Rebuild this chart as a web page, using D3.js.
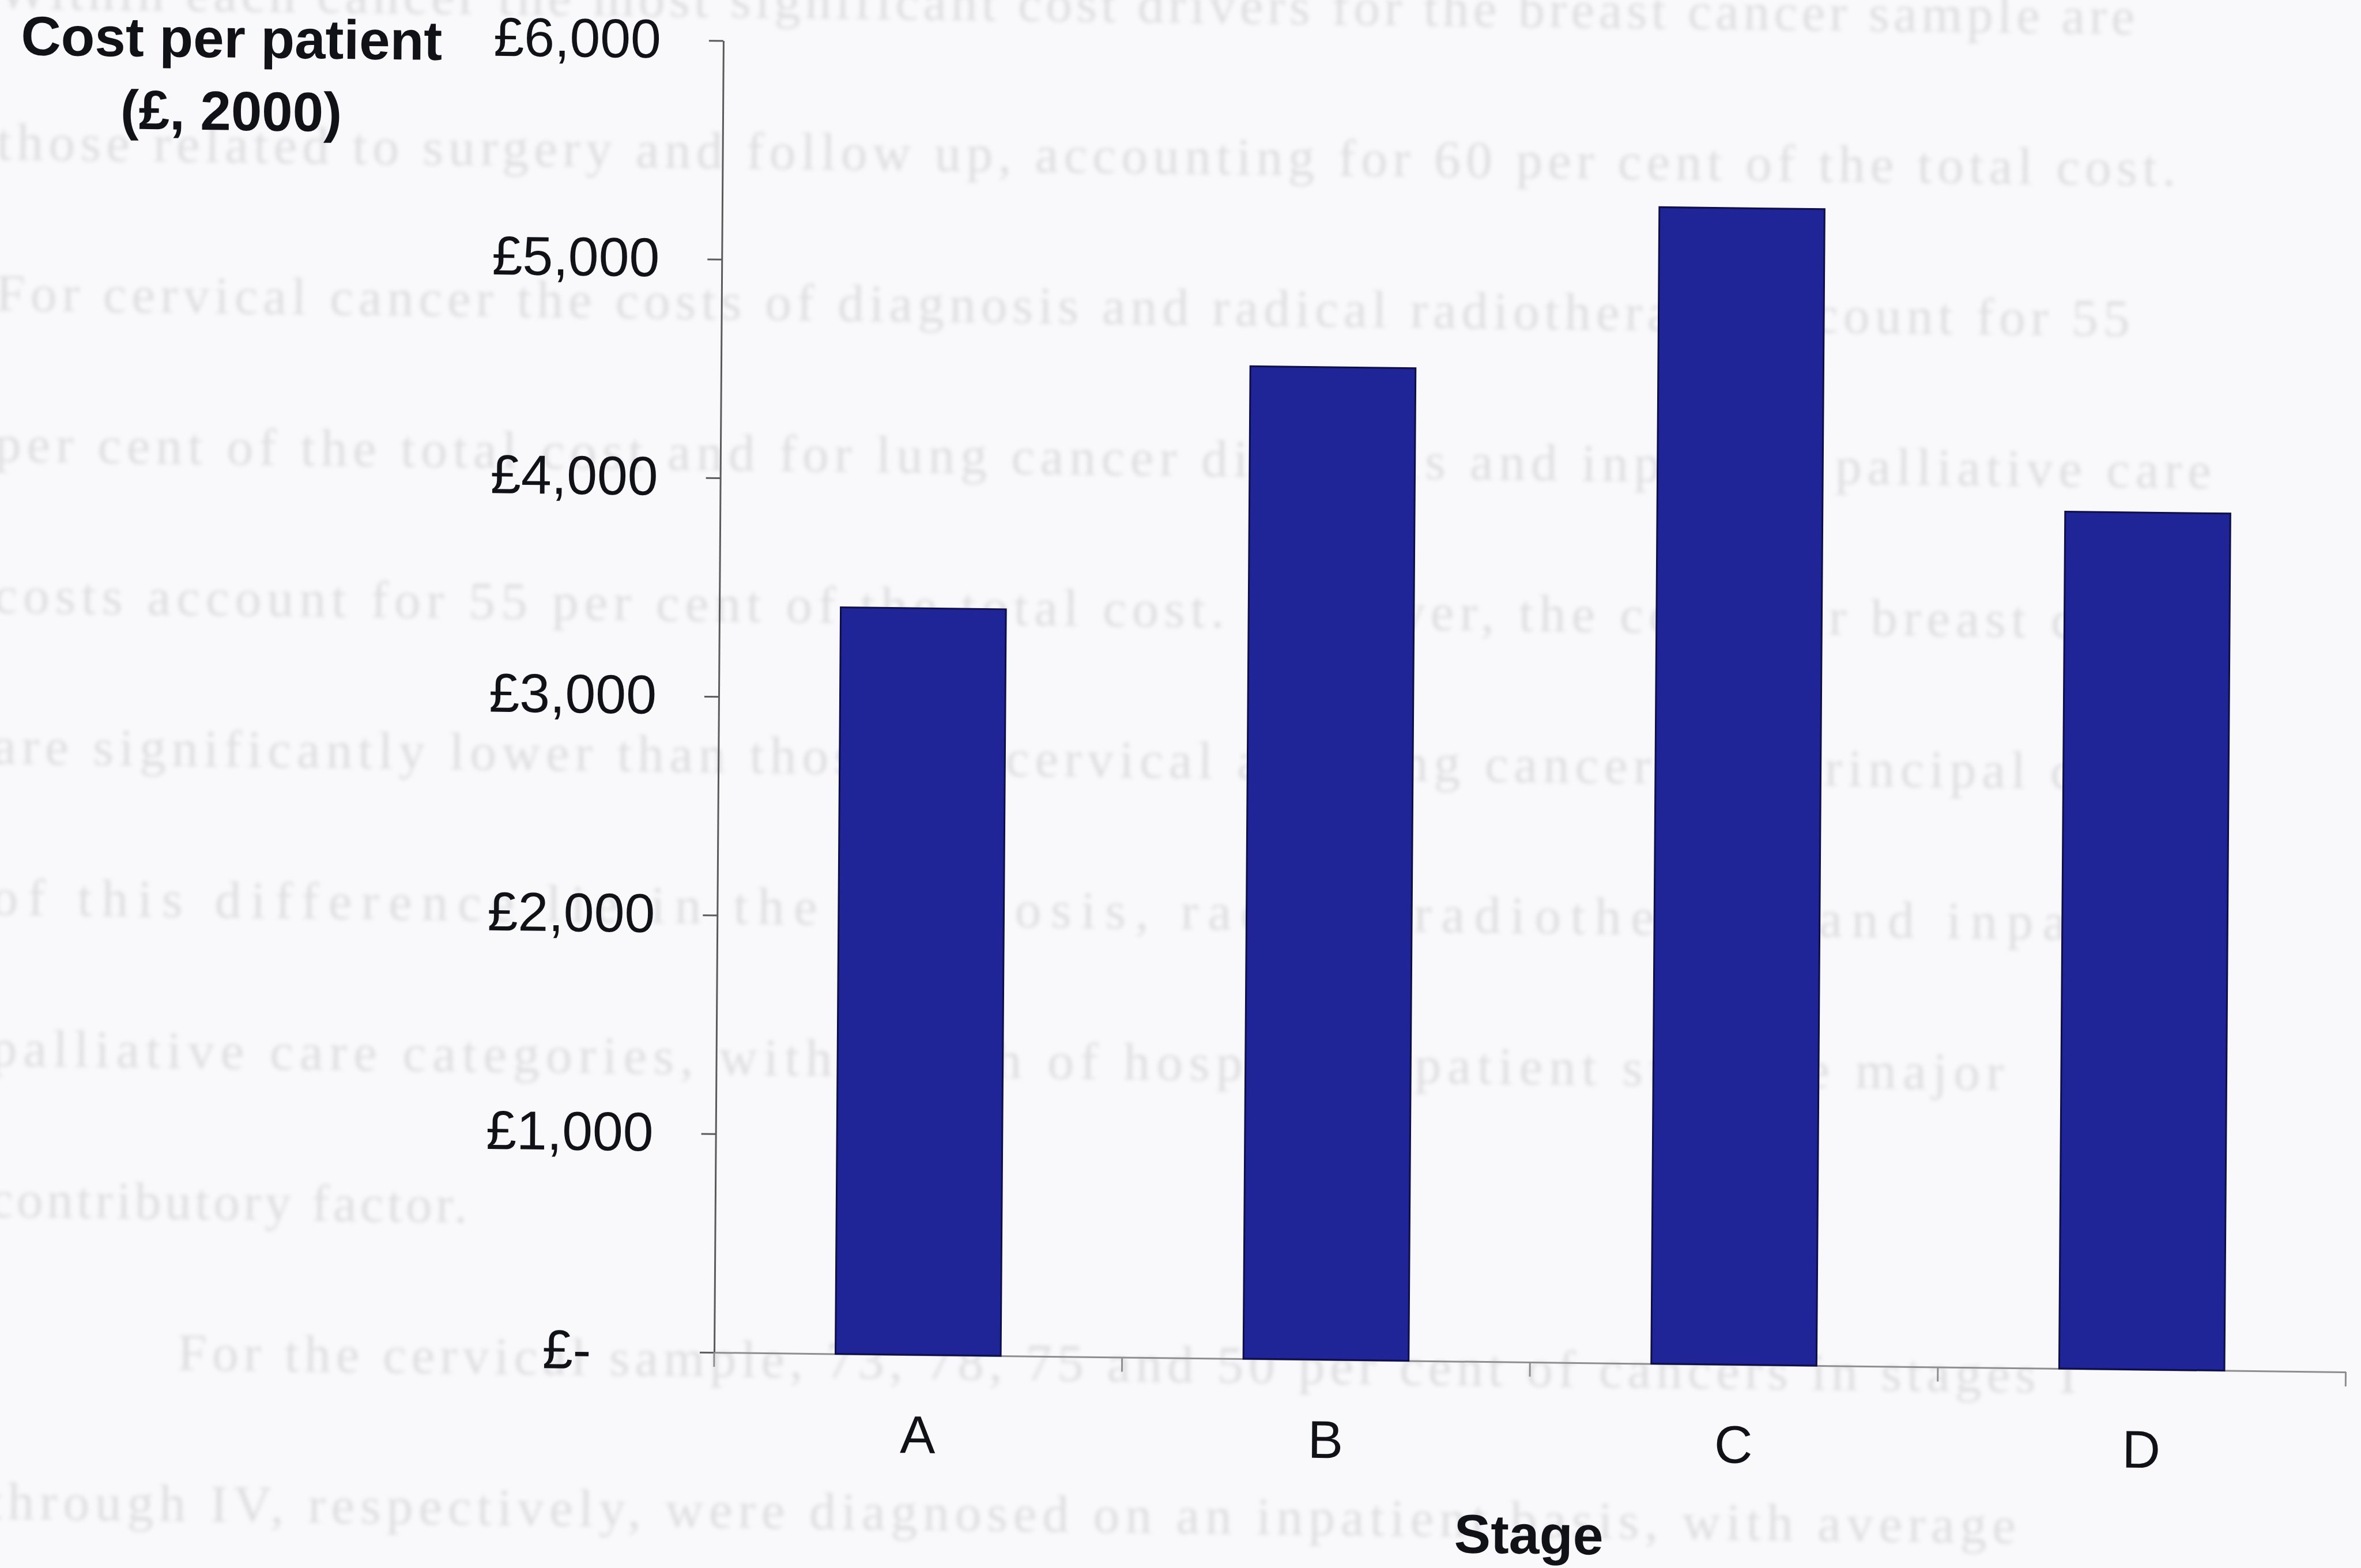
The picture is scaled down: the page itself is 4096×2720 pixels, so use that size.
<!DOCTYPE html>
<html>
<head>
<meta charset="utf-8">
<script src="https://cdn.jsdelivr.net/npm/d3@7"></script>
<style>
  html, body { margin: 0; padding: 0; background: #f9f9fb; }
  svg { display: block; }
</style>
</head>
<body>
<script>
// ---- data ----
const stages = ["A", "B", "C", "D"];
const costPerPatient = [3415, 4540, 5290, 3920];
const yTickValues = [0, 1000, 2000, 3000, 4000, 5000, 6000];
const yTitleLines = ["Cost per patient", "(£, 2000)"];
const xTitle = "Stage";

// faint lines of the facing page's text that show through the paper
const pageLines = [
  "Within each cancer the most significant cost drivers for the breast cancer sample are",
  "those related to surgery and follow up, accounting for 60 per cent of the total cost.",
  "For cervical cancer the costs of diagnosis and radical radiotherapy account for 55",
  "per cent of the total cost and for lung cancer diagnosis and inpatient palliative care",
  "costs account for 55 per cent of the total cost.  However, the costs for breast cancer",
  "are significantly lower than those for cervical and lung cancer, the principal causes",
  "of this difference lie in the diagnosis, radical radiotherapy and inpatient",
  "palliative care categories, with length of hospital inpatient stay the major",
  "contributory factor.",
  "For the cervical sample, 73, 78, 75 and 50 per cent of cancers in stages I",
  "through IV, respectively, were diagnosed on an inpatient basis, with average"
];
const pageLineStart = [-20, -20, -20, -20, -20, -20, -20, -20, -20, 308, -20];
const pageLineEnd = [3687, 3760, 3682, 3825, 3838, 3838, 3825, 3473, 809, 3603, 3499];

// ---- layout ----
const W = 4096, H = 2720;
const origin = [1239, 2346];          // where the two axes meet
const plotRight = 4069.5;
const plotTop = 70.6;
const sans = "'Liberation Sans', Arial, Helvetica, sans-serif";
const ink = "#111118";

const svg = d3.select("body").append("svg")
  .attr("width", W).attr("height", H);

svg.append("rect").attr("width", W).attr("height", H).attr("fill", "#f9f9fb");

const defs = svg.append("defs");
defs.append("filter").attr("id", "soft")
  .attr("x", "-5%").attr("y", "-50%").attr("width", "110%").attr("height", "200%")
  .append("feGaussianBlur").attr("stdDeviation", 3.5);

// the whole sheet sits very slightly askew
const sheet = svg.append("g")
  .attr("transform",
    `translate(${origin[0]},${origin[1]}) matrix(1,0.012,-0.007,1,0,0) translate(${-origin[0]},${-origin[1]})`);

// show-through text
const page = sheet.append("g")
  .attr("filter", "url(#soft)")
  .attr("font-family", "'Liberation Serif', 'Times New Roman', serif")
  .attr("font-size", 92)
  .attr("fill", "#c8c8cc")
  .attr("opacity", 0.55);

const lineY = d3.scaleLinear().domain([0, 1]).range([30, 30 + 262]);
page.selectAll("text").data(pageLines).join("text")
  .attr("x", (d, i) => pageLineStart[i])
  .attr("y", (d, i) => lineY(i))
  .attr("textLength", (d, i) => pageLineEnd[i] - pageLineStart[i])
  .attr("lengthAdjust", "spacing")
  .text(d => d);

// ---- scales ----
const x = d3.scaleBand()
  .domain(stages)
  .range([origin[0], plotRight])
  .paddingInner(0.595)
  .paddingOuter(0.2975);

const y = d3.scaleLinear()
  .domain([0, 6000])
  .range([origin[1], plotTop]);

// ---- axes ----
const yAxis = d3.axisLeft(y)
  .tickValues(yTickValues)
  .tickSize(25)
  .tickSizeOuter(0)
  .tickPadding(83)
  .tickFormat(v => v === 0 ? "£-" : "£" + d3.format(",")(v));

const gy = sheet.append("g")
  .attr("transform", `translate(${origin[0]},0)`)
  .call(yAxis);
gy.select(".domain").attr("stroke", "#5a5a5e").attr("stroke-width", 3);
gy.selectAll(".tick line").attr("stroke", "#5a5a5e").attr("stroke-width", 3);
gy.selectAll(".tick text")
  .attr("font-family", sans)
  .attr("font-size", 95)
  .attr("fill", ink);
// accounting style zero: the dash is held back by two digit widths
gy.selectAll(".tick text").filter(v => v === 0)
  .attr("x", -(25 + 83 + 2 * 0.556 * 95));

const xAxis = d3.axisBottom(x)
  .tickSize(0)
  .tickSizeOuter(0)
  .tickPadding(105);

const gx = sheet.append("g")
  .attr("transform", `translate(0,${origin[1]})`)
  .call(xAxis);
gx.select(".domain").attr("stroke", "#8e8e92").attr("stroke-width", 3);
gx.selectAll(".tick text")
  .attr("font-family", sans)
  .attr("font-size", 92)
  .attr("fill", ink);

// tick marks between categories
const boundaries = d3.range(stages.length + 1).map(i => x.range()[0] + i * x.step());
gx.selectAll("line.divider").data(boundaries).join("line")
  .attr("class", "divider")
  .attr("x1", d => d).attr("x2", d => d)
  .attr("y1", 0).attr("y2", 25)
  .attr("stroke", "#8e8e92").attr("stroke-width", 3);

// ---- bars ----
const rows = stages.map((s, i) => ({ stage: s, cost: costPerPatient[i] }));
sheet.append("g").selectAll("rect").data(rows).join("rect")
  .attr("x", d => x(d.stage))
  .attr("y", d => y(d.cost))
  .attr("width", x.bandwidth())
  .attr("height", d => y(0) - y(d.cost))
  .attr("fill", "#1f2497")
  .attr("stroke", "#0e0e48")
  .attr("stroke-width", 3);

// ---- titles ----
const yTitle = sheet.append("text")
  .attr("font-family", sans)
  .attr("font-weight", "bold")
  .attr("font-size", 96)
  .attr("fill", ink)
  .attr("text-anchor", "middle");
yTitle.selectAll("tspan").data(yTitleLines).join("tspan")
  .attr("x", 386)
  .attr("y", (d, i) => 110 + i * 126)
  .text(d => d);

sheet.append("text")
  .attr("x", (origin[0] + plotRight) / 2)
  .attr("y", 2678)
  .attr("font-family", sans)
  .attr("font-weight", "bold")
  .attr("font-size", 95)
  .attr("fill", ink)
  .attr("text-anchor", "middle")
  .text(xTitle);
</script>
</body>
</html>
